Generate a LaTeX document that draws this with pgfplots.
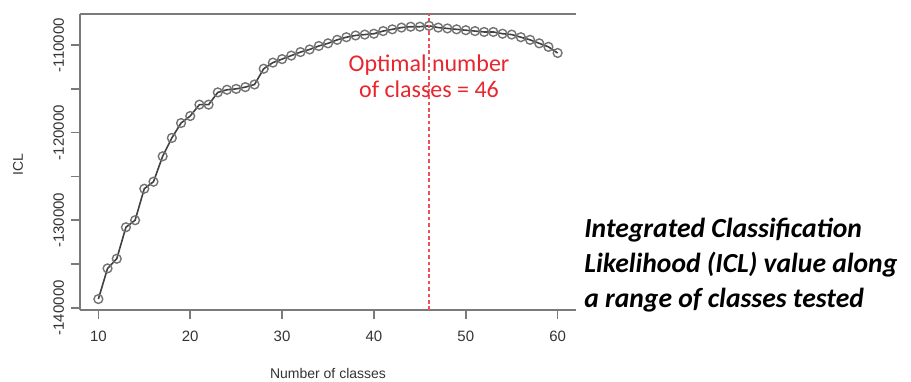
\documentclass[border=0pt]{standalone}
\usepackage{fontspec}
\setmainfont{Liberation Sans}
\newfontfamily\calibri{Carlito}
\usepackage{pgfplots}
\usepackage{pgfplotstable}
\pgfplotsset{compat=1.18}

\definecolor{axgray}{HTML}{7A7A7A}
\definecolor{linegray}{HTML}{404040}
\definecolor{optred}{HTML}{E8262E}

% ICL value for each number of classes
\pgfplotstableread{
k icl
10 -139000
11 -135500
12 -134400
13 -130800
14 -130000
15 -126400
16 -125600
17 -122700
18 -120600
19 -118900
20 -118100
21 -116800
22 -116800
23 -115400
24 -115100
25 -115000
26 -114800
27 -114500
28 -112700
29 -112000
30 -111600
31 -111200
32 -110800
33 -110500
34 -110100
35 -109800
36 -109400
37 -109100
38 -108900
39 -108800
40 -108700
41 -108400
42 -108200
43 -108000
44 -107900
45 -107900
46 -107800
47 -108000
48 -108100
49 -108200
50 -108300
51 -108400
52 -108500
53 -108500
54 -108700
55 -108800
56 -109100
57 -109400
58 -109800
59 -110200
60 -110900
}\icltable

\begin{document}
\begin{tikzpicture}
\useasboundingbox (-40pt,-35.5pt) rectangle (415.5pt,155pt);
\begin{axis}[
  scale only axis,
  width=248pt, height=148pt,
  xmin=8, xmax=62,
  ymin=-140250, ymax=-106450,
  clip=false,
  scaled y ticks=false,
  axis x line=box,
  axis y line*=left,
  axis line style={-, draw=axgray, line width=0.9pt},
  xtick pos=bottom,
  ytick pos=left,
  tick align=outside,
  major tick length=4.5pt,
  tick style={axgray, line width=0.8pt},
  xtick={10,20,30,40,50,60},
  xticklabels={10,20,30,40,50,60},
  ytick={-140000,-135000,-130000,-125000,-120000,-115000,-110000},
  yticklabels={-140000,,-130000,,-120000,,-110000},
  ticklabel style={font=\fontsize{7.5}{9}\selectfont, text=black!80},
  yticklabel style={rotate=90, anchor=south},
  xticklabel style={yshift=-2.5pt},
  xlabel={Number of classes},
  ylabel={ICL},
  label style={font=\fontsize{7}{9}\selectfont, text=black!80},
  xlabel style={at={(axis description cs:0.5,-0.213)}, anchor=center},
  ylabel style={at={(axis description cs:-0.125,0.49)}, anchor=center},
]
\addplot[linegray, line width=0.8pt, mark=o, mark size=2.2pt,
  mark options={draw=black!55, line width=0.7pt}] table[x=k, y=icl] {\icltable};
\addplot[optred!80, line width=0.6pt, dash pattern=on 1.8pt off 1.4pt]
  coordinates {(46,-140250) (46,-106450)};
\node[font=\calibri\fontsize{12}{13}\selectfont, text=optred, align=center]
  at (axis cs:46,-113600) {Optimal number\\of classes = 46};
\node[anchor=west, align=left, inner sep=0pt,
  font=\calibri\bfseries\itshape\fontsize{13.8}{17.5}\selectfont]
  at (rel axis cs:1.016,0.152) {Integrated Classification\\Likelihood (ICL) value along\\a range of classes tested};
\end{axis}
\end{tikzpicture}
\end{document}
